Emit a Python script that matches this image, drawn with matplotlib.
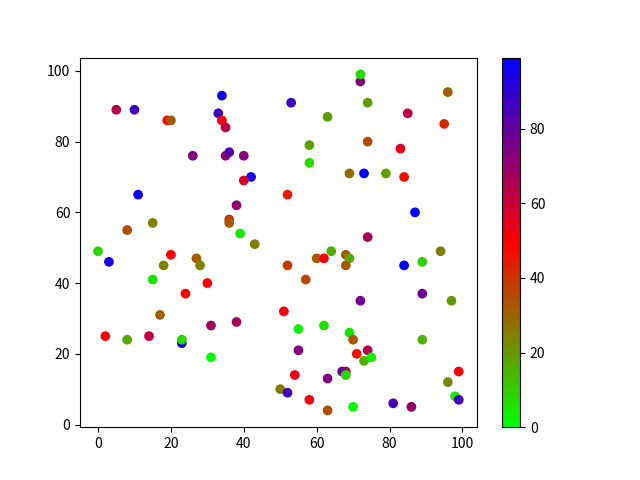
import numpy as np
import matplotlib
matplotlib.use("Agg")
import matplotlib.pyplot as plt

plt.rcParams['font.family'] = ['Noto Sans CJK SC', 'DejaVu Sans']

# points: x, y, colour value
x = [0, 3, 2, 5, 10, 8, 8, 11, 14, 15, 15, 18, 17, 19, 20, 20, 23, 23, 24, 26,
     27, 28, 30, 31, 31, 33, 34, 34, 35, 35, 36, 36, 36, 38, 38, 39, 40, 42, 40, 43,
     50, 51, 52, 52, 52, 53, 54, 55, 55, 57, 58, 58, 58, 60, 62, 62, 63, 63, 63, 64,
     68, 67, 68, 68, 69, 68, 69, 69, 70, 70, 71, 72, 72, 72, 73, 73, 74, 74, 74, 74,
     75, 79, 81, 83, 84, 84, 85, 86, 87, 89, 89, 89, 94, 95, 96, 96, 97, 98, 99, 99]
y = [49, 46, 25, 89, 89, 55, 24, 65, 25, 57, 41, 45, 31, 86, 86, 48, 23, 24, 37, 76,
     47, 45, 40, 28, 19, 88, 93, 86, 84, 76, 77, 58, 57, 62, 29, 54, 76, 70, 69, 51,
     10, 32, 9, 65, 45, 91, 14, 27, 21, 41, 79, 74, 7, 47, 47, 28, 87, 13, 4, 49,
     15, 15, 14, 48, 47, 45, 71, 26, 24, 5, 20, 97, 99, 35, 71, 18, 91, 80, 53, 21,
     19, 71, 6, 78, 70, 45, 88, 5, 60, 46, 37, 24, 49, 85, 94, 12, 35, 8, 7, 15]
c = [8, 94, 50, 64, 87, 35, 17, 96, 62, 24, 5, 24, 30, 50, 32, 50, 92, 8, 50, 73,
     32, 24, 51, 67, 0, 87, 94, 52, 62, 72, 82, 38, 32, 70, 67, 5, 73, 94, 57, 25,
     25, 52, 86, 44, 38, 87, 54, 3, 74, 36, 19, 7, 52, 32, 51, 6, 19, 74, 35, 17,
     62, 78, 8, 32, 17, 32, 29, 5, 33, 2, 46, 74, 8, 77, 99, 16, 20, 35, 67, 65,
     3, 19, 84, 55, 47, 99, 62, 71, 99, 10, 78, 15, 25, 42, 31, 23, 20, 5, 86, 51]

plt.scatter(x, y, c=c, cmap="brg_r")
plt.colorbar()
plt.savefig("out.png")
